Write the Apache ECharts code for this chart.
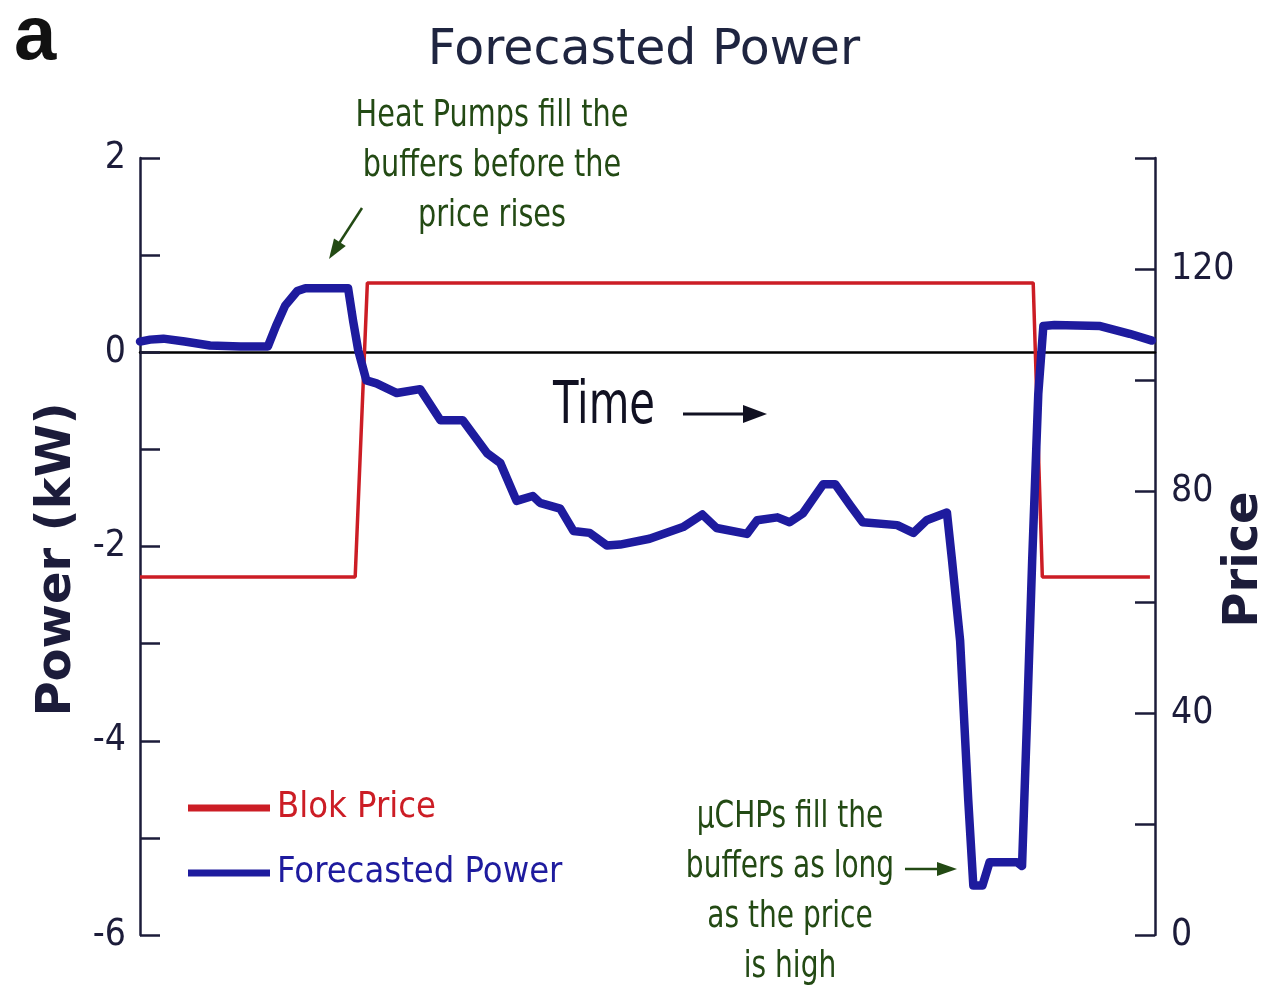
<!DOCTYPE html>
<html>
<head>
<meta charset="utf-8">
<script src="https://cdn.jsdelivr.net/npm/echarts@6/dist/echarts.min.js"></script>
<style>
html,body{margin:0;padding:0;background:#fff;}
#chart{width:1264px;height:985px;}
</style>
</head>
<body>
<div id="chart"></div>
<script>
// ---- data ----
const powerTime = [0, 1.0, 2.3, 4.4, 6.9, 9.9, 12.6, 13.4, 14.3, 15.5, 16.3, 20.5, 21.0, 21.5, 22.3, 23.3, 25.3, 27.6, 29.6, 31.8, 34.2, 35.5, 37.1, 38.7, 39.4, 41.4, 42.7, 44.3, 46.0, 47.3, 50.2, 53.5, 55.4, 56.8, 59.8, 60.8, 62.8, 64.0, 65.3, 67.3, 68.5, 70.0, 71.2, 74.6, 76.2, 77.5, 79.5, 80.0, 80.8, 81.6, 82.1, 83.0, 83.7, 86.4, 86.9, 87.4, 87.9, 88.5, 89.0, 90.1, 94.6, 97.5, 99.7];
const powerKW   = [0.11, 0.13, 0.14, 0.11, 0.07, 0.06, 0.06, 0.27, 0.48, 0.63, 0.66, 0.66, 0.32, 0.02, -0.29, -0.32, -0.42, -0.38, -0.70, -0.70, -1.04, -1.14, -1.53, -1.48, -1.55, -1.61, -1.84, -1.86, -1.99, -1.98, -1.92, -1.80, -1.67, -1.81, -1.87, -1.73, -1.70, -1.75, -1.66, -1.36, -1.36, -1.58, -1.75, -1.78, -1.86, -1.73, -1.65, -2.14, -2.97, -4.61, -5.49, -5.49, -5.25, -5.25, -5.29, -3.76, -2.14, -0.43, 0.27, 0.28, 0.27, 0.19, 0.12];
const priceTime = [0, 21.2, 22.4, 88.0, 88.9, 99.5];
const blokPrice = [64.5, 64.5, 117.5, 117.5, 64.5, 64.5];
const powerTicks = [2, 0, -2, -4, -6];
const priceTicks = [120, 80, 40, 0];

const NARROW = "'Liberation Sans Narrow', 'DejaVu Sans Condensed', sans-serif";
const GREEN = '#234a14';
const BLUE = '#1e1b9e';
const RED = '#cc1d25';
const NAVY = '#1c1c3a';

const zip = (a, b) => a.map((x, i) => [x, b[i]]);

const chart = echarts.init(document.getElementById('chart'));

function arrowHead(tipX, tipY, angleDeg, len, half, color) {
  const a = angleDeg * Math.PI / 180;
  const bx = tipX - len * Math.cos(a), by = tipY - len * Math.sin(a);
  const nx = -Math.sin(a) * half, ny = Math.cos(a) * half;
  return { type: 'polygon', shape: { points: [[tipX, tipY], [bx + nx, by + ny], [bx - nx, by - ny]] }, style: { fill: color } };
}

const anno = (text, x, y, color, size, sx) => ({
  type: 'text', x: x, y: y, scaleX: sx,
  style: { text: text, fill: color, font: size + 'px ' + NARROW, align: 'center', verticalAlign: 'middle' }
});

const option = {
  backgroundColor: '#fff',
  animation: false,
  title: {
    text: 'Forecasted Power', left: 639, top: 22, textAlign: 'center',
    textStyle: { fontFamily: 'DejaVu Sans', fontSize: 49, fontWeight: 'normal', color: '#1f2540' }
  },
  legend: {
    orient: 'vertical', left: 183, top: 783, itemWidth: 82, itemHeight: 7, itemGap: 25,
    icon: 'rect',
    data: [
      { name: 'Blok Price', textStyle: { color: RED } },
      { name: 'Forecasted Power', textStyle: { color: BLUE } }
    ],
    textStyle: { fontFamily: NARROW, fontSize: 36, lineHeight: 40, padding: [0, 0, 0, 2] }
  },
  grid: { left: 140, right: 109, top: 158, bottom: 50, containLabel: false, outerBoundsMode: 'none' },
  xAxis: {
    type: 'value', min: 0, max: 100,
    axisLine: { show: true, onZero: true, lineStyle: { color: '#000', width: 2.5 } },
    axisTick: { show: false }, axisLabel: { show: false }, splitLine: { show: false }
  },
  yAxis: [
    {
      type: 'value', min: -6, max: 2, interval: 1, position: 'left',
      name: 'Power (kW)', nameLocation: 'middle', nameRotate: 90, nameGap: 58, nameMoveOverlap: false,
      nameTextStyle: { fontFamily: 'DejaVu Sans', fontWeight: 'bold', fontSize: 48, color: NAVY, padding: [0, 26, 0, 0] },
      axisLine: { show: true, lineStyle: { color: NAVY, width: 2.5 } },
      axisTick: { show: true, inside: true, length: 20, lineStyle: { color: NAVY, width: 2.5 } },
      axisLabel: { margin: 14, fontFamily: NARROW, fontSize: 37, color: NAVY,
        formatter: v => powerTicks.includes(v) ? String(v) : '' },
      splitLine: { show: false }
    },
    {
      type: 'value', min: 0, max: 140, interval: 20, position: 'right',
      name: 'Price', nameLocation: 'middle', nameRotate: 90, nameGap: 66, nameMoveOverlap: false,
      nameTextStyle: { fontFamily: 'DejaVu Sans', fontWeight: 'bold', fontSize: 48, color: NAVY, padding: [0, 26, 0, 0] },
      axisLine: { show: true, lineStyle: { color: NAVY, width: 2.5 } },
      axisTick: { show: true, inside: true, length: 20, lineStyle: { color: NAVY, width: 2.5 } },
      axisLabel: { margin: 16, fontFamily: NARROW, fontSize: 37, color: NAVY,
        formatter: v => priceTicks.includes(v) ? String(v) : '' },
      splitLine: { show: false }
    }
  ],
  series: [
    {
      name: 'Blok Price', type: 'line', yAxisIndex: 1, showSymbol: false, symbol: 'none',
      data: zip(priceTime, blokPrice),
      lineStyle: { color: RED, width: 3.5 }, itemStyle: { color: RED }, z: 2
    },
    {
      name: 'Forecasted Power', type: 'line', yAxisIndex: 0, showSymbol: false, symbol: 'none',
      data: zip(powerTime, powerKW),
      lineStyle: { color: BLUE, width: 8.5, join: 'round', cap: 'round' }, itemStyle: { color: BLUE }, z: 3
    }
  ],
  graphic: [
    { type: 'text', left: 14, top: 0, style: { text: 'a', fill: '#111', font: 'bold 76px "Liberation Sans", Arial, sans-serif' } },
    anno('Heat Pumps fill the', 492, 116, GREEN, 38, 0.84),
    anno('buffers before the', 492, 166, GREEN, 38, 0.84),
    anno('price rises', 492, 216, GREEN, 38, 0.84),
    { type: 'line', shape: { x1: 362, y1: 208, x2: 338, y2: 245 }, style: { stroke: GREEN, lineWidth: 2.5 } },
    arrowHead(329, 259, 123, 20, 7, GREEN),
    anno('μCHPs fill the', 790, 817, GREEN, 38, 0.82),
    anno('buffers as long', 790, 867, GREEN, 38, 0.82),
    anno('as the price', 790, 917, GREEN, 38, 0.82),
    anno('is high', 790, 967, GREEN, 38, 0.82),
    { type: 'line', shape: { x1: 905, y1: 869, x2: 940, y2: 869 }, style: { stroke: GREEN, lineWidth: 2.5 } },
    arrowHead(957, 869, 0, 20, 7, GREEN),
    anno('Time', 604, 408, '#111122', 58, 0.8),
    { type: 'line', shape: { x1: 683, y1: 414, x2: 745, y2: 414 }, style: { stroke: '#111122', lineWidth: 3 } },
    arrowHead(767, 414, 0, 24, 9, '#111122')
  ]
};
chart.setOption(option);
</script>
</body>
</html>
